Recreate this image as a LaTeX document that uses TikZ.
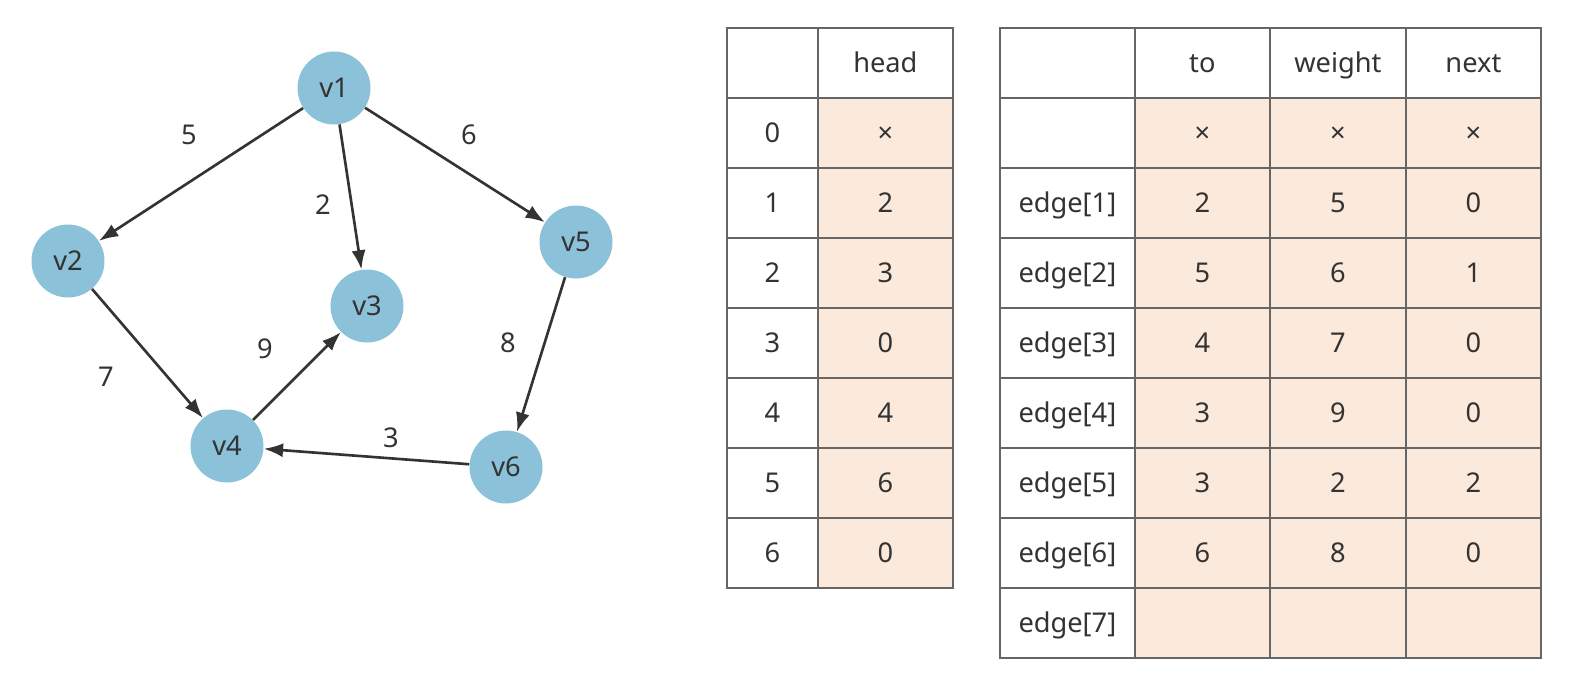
\documentclass[tikz,border=0pt]{standalone}
\usepackage{fontspec}
\setmainfont{Noto Sans}
\usetikzlibrary{arrows.meta,positioning}
\definecolor{vblue}{HTML}{8BC1D9}
\definecolor{peach}{HTML}{FBE9DB}
\definecolor{ink}{HTML}{333333}
\definecolor{rule}{HTML}{666666}

\begin{document}
\begin{tikzpicture}[
 x=0.02cm,y=-0.02cm,
 font=\fontsize{15.5}{18}\selectfont,text=ink,
 vert/.style={circle,fill=vblue,minimum size=1.46cm,inner sep=0pt},
 wlab/.style={inner sep=1pt},
 arr/.style={-{Latex[length=11pt,width=8pt]},line width=1.5pt,draw=ink},
 cell/.style={draw=rule,line width=1pt,anchor=north west,minimum height=1.4cm,inner sep=0pt,
  text height=1.05em,text depth=0pt},
 key/.style={cell,fill=white},
 val/.style={cell,fill=peach}
]
\useasboundingbox (0,0) rectangle (1574,684);
% graph
\node[vert] (v1) at (334,88) {v1};
\node[vert] (v2) at (68,261) {v2};
\node[vert] (v3) at (367,306) {v3};
\node[vert] (v4) at (227,446) {v4};
\node[vert] (v5) at (576,242) {v5};
\node[vert] (v6) at (506,467) {v6};
\draw[arr] (v1)--(v2); \draw[arr] (v1)--(v3); \draw[arr] (v1)--(v5);
\draw[arr] (v2)--(v4); \draw[arr] (v4)--(v3);
\draw[arr] (v5)--(v6); \draw[arr] (v6)--(v4);
\node[wlab] (w12) at (189,135) {5};
\node[wlab] (w13) at (323,205) {2};
\node[wlab] (w15) at (469,135) {6};
\node[wlab] (w24) at (106,377) {7};
\node[wlab] (w43) at (265,349) {9};
\node[wlab] (w56) at (508,343) {8};
\node[wlab] (w64) at (391,438) {3};
% head table
\node[key,minimum width=1.82cm] (hk) at (726,27) {};
\node[key,minimum width=2.7cm] (hv) at (817,27) {head};
\foreach \v [count=\i from 0] in {\texttimes,2,3,0,4,6,0}{
 \node[key,minimum width=1.82cm] (hk\i) at (726,{97+70*\i}) {\i};
 \node[val,minimum width=2.7cm] (hv\i) at (817,{97+70*\i}) {\v};
}
% edge table
\node[key,minimum width=2.7cm] (ek) at (999,27) {};
\node[key,minimum width=2.7cm] (eto) at (1134,27) {to};
\node[key,minimum width=2.72cm] (ew) at (1269,27) {weight};
\node[key,minimum width=2.7cm] (en) at (1405,27) {next};
\foreach \n/\t/\w/\x [count=\i from 0] in {{}/\texttimes/\texttimes/\texttimes,
 edge[1]/2/5/0,edge[2]/5/6/1,edge[3]/4/7/0,edge[4]/3/9/0,
 edge[5]/3/2/2,edge[6]/6/8/0,edge[7]/{}/{}/{}}{
 \node[key,minimum width=2.7cm] (ek\i) at (999,{97+70*\i}) {\n};
 \node[val,minimum width=2.7cm] (eto\i) at (1134,{97+70*\i}) {\t};
 \node[val,minimum width=2.72cm] (ew\i) at (1269,{97+70*\i}) {\w};
 \node[val,minimum width=2.7cm] (en\i) at (1405,{97+70*\i}) {\x};
}
\end{tikzpicture}
\end{document}
